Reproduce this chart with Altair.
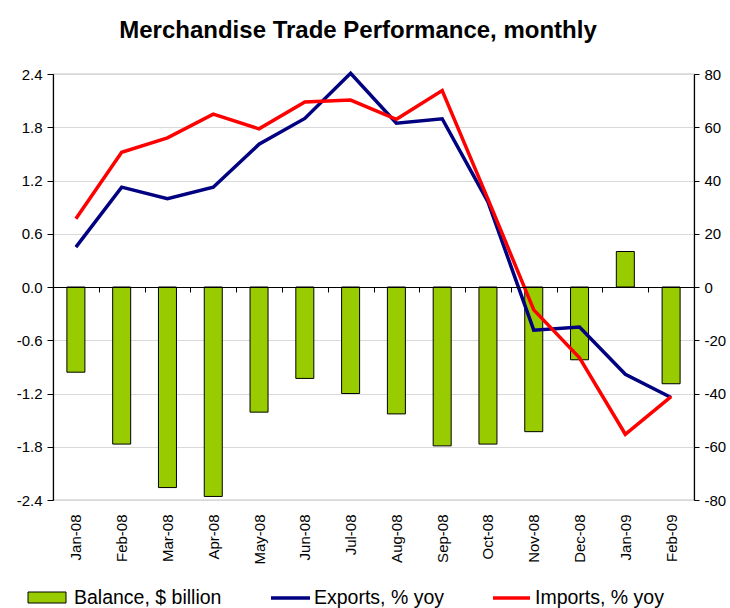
import altair as alt
import pandas as pd

months = ["Jan-08", "Feb-08", "Mar-08", "Apr-08", "May-08", "Jun-08", "Jul-08",
          "Aug-08", "Sep-08", "Oct-08", "Nov-08", "Dec-08", "Jan-09", "Feb-09"]
balance = [-0.96, -1.77, -2.26, -2.36, -1.41, -1.03, -1.20,
           -1.43, -1.79, -1.77, -1.63, -0.82, 0.40, -1.09]
exports = [15.0, 37.5, 33.2, 37.5, 53.6, 63.3, 80.3,
           61.5, 63.2, 32.0, -16.2, -15.0, -32.8, -41.5]
imports = [25.6, 50.6, 56.0, 64.9, 59.4, 69.5, 70.2,
           63.0, 73.8, 33.0, -8.6, -26.6, -55.3, -41.2]

title_text = "Merchandise Trade Performance, monthly"
legend_labels = ["Balance, $ billion", "Exports, % yoy", "Imports, % yoy"]
left_ticks = [-2.4, -1.8, -1.2, -0.6, 0.0, 0.6, 1.2, 1.8, 2.4]
right_ticks = [-80, -60, -40, -20, 0, 20, 40, 60, 80]

df = pd.DataFrame({"month": months, "balance": balance,
                   "Exports": exports, "Imports": imports})

SANS = "Liberation Sans, Arial, sans-serif"
MINUS_FIX = "replace(datum.label, '\u2212', '-')"

W, H = 641, 426

xenc = alt.X("month:N", sort=months, title=None,
             scale=alt.Scale(paddingInner=0, paddingOuter=0),
             axis=alt.Axis(offset=-213, labelPadding=222, labelAngle=270,
                           labelFont=SANS, labelFontSize=15, labelColor="black",
                           domainColor="black", domainWidth=1.2,
                           tickColor="black", tickSize=5, tickBand="extent",
                           zindex=2, grid=False, labelOverlap=False))

bars = alt.Chart(df).mark_bar(size=18, color="#99cc00", stroke="black",
                              strokeWidth=1).encode(
    x=xenc,
    y=alt.Y("balance:Q", title=None,
            scale=alt.Scale(domain=[-2.4, 2.4], nice=False, zero=False),
            axis=alt.Axis(values=left_ticks, format=".1f", orient="left",
                          labelExpr=MINUS_FIX,
                          labelFont=SANS, labelFontSize=15, labelColor="black",
                          labelPadding=5, tickSize=6, tickColor="black",
                          domainColor="black", domainWidth=1.2,
                          gridColor="#d9d9d9", gridWidth=1.2, zindex=0))
)

lines = alt.Chart(df).transform_fold(
    ["Exports", "Imports"], as_=["series", "value"]
).mark_line(strokeWidth=3.5).encode(
    x=xenc,
    y=alt.Y("value:Q", title=None,
            scale=alt.Scale(domain=[-80, 80], nice=False, zero=False),
            axis=alt.Axis(values=right_ticks, orient="right",
                          labelExpr=MINUS_FIX,
                          labelFont=SANS, labelFontSize=15, labelColor="black",
                          labelPadding=5, tickSize=5, tickColor="black",
                          domainColor="black", domainWidth=1.2, grid=False,
                          zindex=2)),
    color=alt.Color("series:N", legend=None,
                    scale=alt.Scale(domain=["Exports", "Imports"],
                                    range=["#000080", "#ff0000"]))
)

one = pd.DataFrame({"k": [0]})

title = alt.Chart(one).mark_text(font=SANS, fontSize=24, fontWeight="bold",
                                 color="black", align="center",
                                 baseline="alphabetic").encode(
    x=alt.value(305), y=alt.value(-36), text=alt.value(title_text))

leg_box = alt.Chart(one).mark_rect(color="#99cc00", stroke="black",
                                   strokeWidth=1).encode(
    x=alt.value(-25), x2=alt.value(13), y=alt.value(518), y2=alt.value(529))
leg_blue = alt.Chart(one).mark_rule(color="#000080", strokeWidth=3.5).encode(
    x=alt.value(218), x2=alt.value(257), y=alt.value(524))
leg_red = alt.Chart(one).mark_rule(color="#ff0000", strokeWidth=3.5).encode(
    x=alt.value(440), x2=alt.value(477), y=alt.value(524))

def leg_text(xpos, label):
    return alt.Chart(one).mark_text(font=SANS, fontSize=19.5, color="black",
                                    align="left", baseline="middle").encode(
        x=alt.value(xpos), y=alt.value(524), text=alt.value(label))

chart = alt.layer(
    bars, lines, title, leg_box, leg_blue, leg_red,
    leg_text(21, legend_labels[0]), leg_text(261, legend_labels[1]),
    leg_text(482, legend_labels[2])
).resolve_scale(y="independent", color="independent").properties(
    width=W, height=H,
    autosize=alt.AutoSizeParams(type="none"),
    padding={"left": 53, "top": 74, "right": 36, "bottom": 108},
    background="white"
).configure_view(stroke="#8c8c8c", strokeWidth=1.2)

chart.save("out.html", embed_options={"renderer": "svg", "actions": False})
